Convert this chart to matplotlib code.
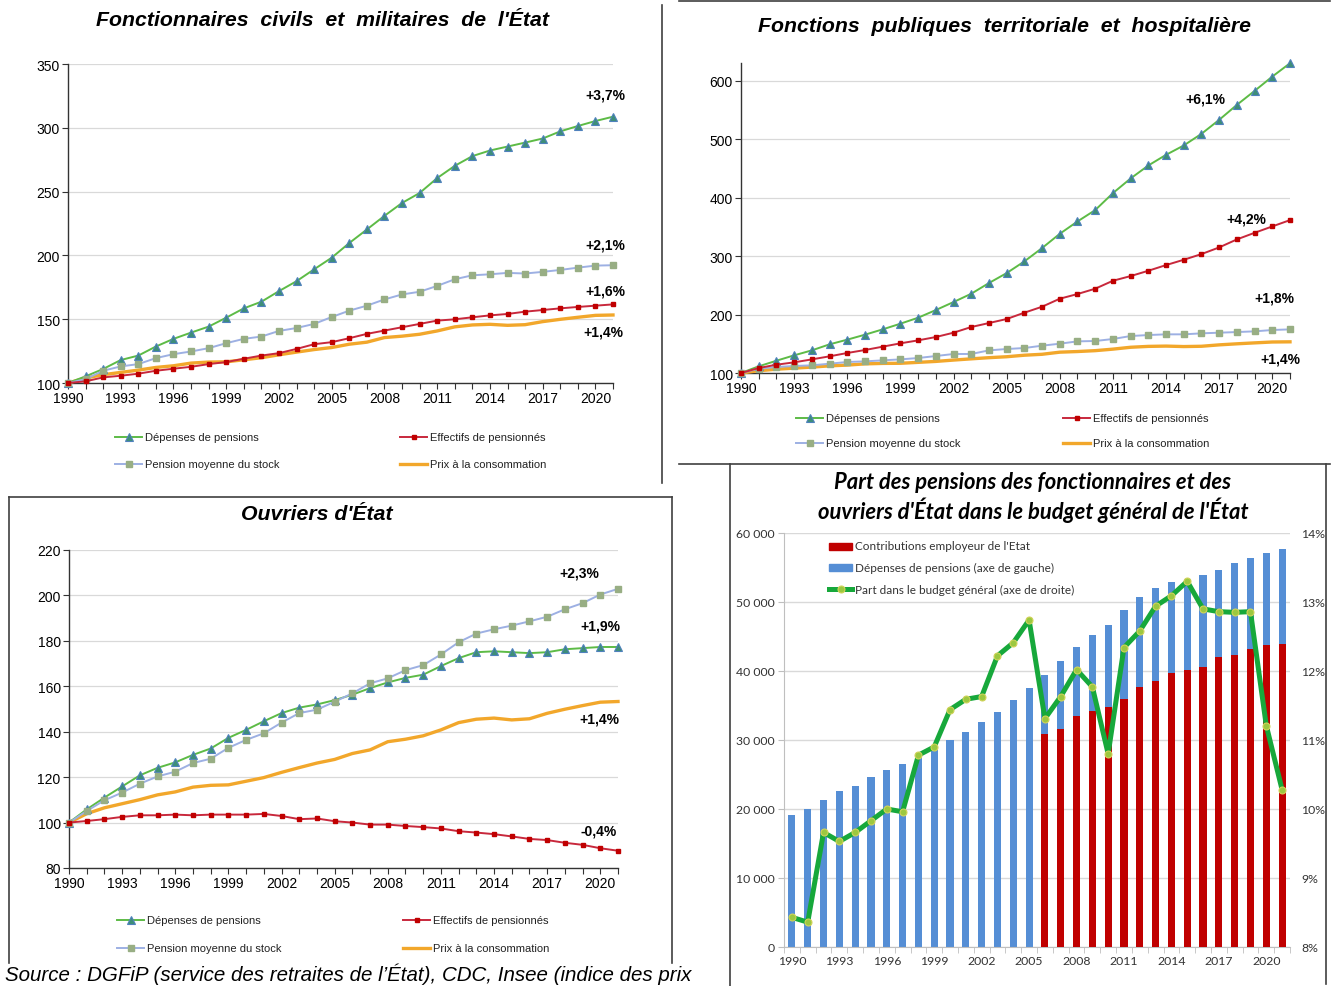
import matplotlib
matplotlib.use("Agg")
import matplotlib.pyplot as plt
import numpy as np
from matplotlib.lines import Line2D
from matplotlib.patches import Rectangle
from matplotlib.ticker import FuncFormatter

# ---------------------------------------------------------------- data
annees = list(range(1990, 2022))

# Indice des prix à la consommation (base 100 en 1990), commun aux trois régimes
prix_conso = [100, 103.9, 106.5, 108.3, 110.1, 112.2, 113.5, 115.6, 116.4, 116.6,
              118.2, 119.8, 122.1, 124.2, 126.2, 127.8, 130.4, 132.0, 135.6, 136.7,
              138.2, 140.8, 144.0, 145.5, 146.0, 145.2, 145.7, 148.1, 149.9, 151.5,
              153.0, 153.3]

# Fonctionnaires civils et militaires de l'État
etat_depenses = [100, 105.2, 111.0, 118.0, 121.5, 128.6, 134.6, 139.5, 144.2, 151.2,
                 158.5, 163.7, 172.0, 179.8, 189.1, 198.2, 209.7, 220.3, 231.0, 241.1,
                 248.9, 260.6, 270.2, 277.8, 282.2, 285.3, 288.4, 291.6, 297.2, 301.4,
                 305.3, 308.7]
etat_effectifs = [100, 101.3, 104.4, 105.7, 107.3, 109.6, 111.2, 112.7, 114.8, 116.4,
                  119.0, 121.5, 123.4, 126.7, 130.4, 132.0, 135.1, 138.5, 141.1, 143.7,
                  146.3, 148.9, 149.9, 151.5, 153.0, 154.1, 155.9, 157.2, 158.5, 159.6,
                  160.6, 161.6]
etat_pension_moy = [100, 103.0, 109.6, 113.0, 114.8, 119.5, 122.6, 124.7, 127.3, 131.2,
                    134.6, 136.4, 140.8, 143.1, 146.3, 151.7, 156.7, 160.6, 165.5, 169.4,
                    171.5, 176.1, 181.3, 184.4, 185.2, 186.3, 185.8, 187.1, 188.6, 190.4,
                    192.0, 192.3]
etat_taux = ["+3,7%", "+2,1%", "+1,6%", "+1,4%"]

# Fonctions publiques territoriale et hospitalière
fpth_depenses = [100, 111.4, 121.0, 130.2, 138.7, 149.0, 157.0, 165.5, 174.6, 184.3,
                 194.5, 207.6, 221.3, 235.5, 253.8, 270.8, 290.8, 313.6, 338.0, 359.1,
                 378.5, 407.5, 432.6, 454.8, 473.0, 489.0, 508.9, 532.8, 558.4, 582.3,
                 606.8, 629.6]
fpth_effectifs = [100, 108.5, 114.2, 118.2, 123.3, 128.5, 134.2, 139.3, 145.0, 150.7,
                  155.8, 161.5, 168.9, 178.6, 185.4, 192.3, 203.1, 213.3, 227.0, 235.0,
                  244.1, 257.7, 265.7, 274.8, 284.5, 293.6, 303.3, 314.7, 328.4, 339.7,
                  350.6, 361.4]
fpth_pension_moy = [100, 107.4, 110.3, 112.0, 113.1, 115.9, 118.8, 119.9, 121.6, 123.3,
                    125.6, 129.0, 132.5, 132.5, 138.7, 141.0, 142.7, 146.7, 150.1, 154.1,
                    154.7, 158.1, 163.2, 164.9, 166.1, 166.1, 167.8, 168.9, 170.0, 171.2,
                    173.5, 174.6]
fpth_taux = ["+6,1%", "+4,2%", "+1,8%", "+1,4%"]

# Ouvriers d'État
ouvr_depenses = [100, 105.8, 111.0, 115.9, 120.8, 124.1, 126.5, 129.8, 132.6, 137.3,
                 140.8, 144.6, 148.2, 150.6, 152.0, 153.9, 156.3, 159.2, 161.7, 163.7,
                 165.1, 168.9, 172.4, 175.0, 175.4, 175.0, 174.6, 175.0, 176.3, 176.8,
                 177.3, 177.3]
ouvr_effectifs = [100, 100.7, 101.5, 102.5, 103.2, 103.2, 103.5, 103.2, 103.5, 103.5,
                  103.5, 103.8, 102.9, 101.5, 101.8, 100.6, 100.0, 99.1, 99.1, 98.5,
                  98.0, 97.4, 96.2, 95.6, 94.9, 93.9, 92.8, 92.3, 91.1, 90.2,
                  88.7, 87.6]
ouvr_pension_moy = [100, 105.1, 109.8, 113.2, 117.1, 120.3, 122.4, 126.2, 128.1, 132.9,
                    136.4, 139.3, 144.0, 148.2, 149.7, 153.2, 156.9, 161.3, 163.5, 167.1,
                    169.3, 174.0, 179.4, 183.2, 185.1, 186.7, 188.6, 190.6, 193.9, 196.6,
                    200.4, 202.9]
ouvr_taux = ["+2,3%", "+1,9%", "+1,4%", "-0,4%"]

# Budget général de l'État (M€ et %)
budget_depenses = [19200, 20030, 21240, 22540, 23310, 24570, 25580, 26500, 27510, 28580,
                   30020, 31230, 32580, 34030, 35820, 37500, 39490, 41510, 43490, 45230,
                   46680, 48900, 50680, 52080, 52860, 53340, 53970, 54640, 55650, 56430,
                   57060, 57680]
annees_contrib = list(range(2006, 2022))
budget_contrib = [30890, 31570, 33450, 34270, 34850, 35960, 37750, 38620, 39730, 40160,
                  40600, 42050, 42380, 43200, 43730, 43880]
budget_part = [8.43, 8.36, 9.66, 9.53, 9.66, 9.83, 10.00, 9.96, 10.78, 10.90,
               11.44, 11.59, 11.63, 12.22, 12.41, 12.74, 11.31, 11.63, 12.02, 11.77,
               10.80, 12.34, 12.58, 12.94, 13.09, 13.30, 12.90, 12.86, 12.85, 12.86,
               11.21, 10.28]

labels_series = ["Dépenses de pensions", "Effectifs de pensionnés",
                 "Pension moyenne du stock", "Prix à la consommation"]

# ---------------------------------------------------------------- figure
W, H = 1339, 987
fig = plt.figure(figsize=(W / 100, H / 100), dpi=100)
fig.patch.set_facecolor("white")

SANS = ["Liberation Sans", "DejaVu Sans"]
CAL = ["Lato", "DejaVu Sans"]


def fx(x):
    return x / W


def fy(y):
    return 1 - y / H


def axes_px(l, t, r, b):
    return fig.add_axes([l / W, 1 - b / H, (r - l) / W, (b - t) / H])


def ftext(x, y, s, **kw):
    kw.setdefault("family", SANS)
    fig.text(fx(x), fy(y), s, **kw)


def fline(x0, y0, x1, y1, **kw):
    fig.add_artist(Line2D([fx(x0), fx(x1)], [fy(y0), fy(y1)],
                          transform=fig.transFigure, **kw))


STYLE = {
    "dep": dict(color="#5DBB46", lw=1.4, marker="^", ms=5.6,
                mfc="#3E8E78", mec="#4F81BD", mew=0.8),
    "eff": dict(color="#C8283C", lw=1.4, marker="s", ms=3.5,
                mfc="#C00000", mec="#C00000"),
    "moy": dict(color="#9DB0E3", lw=1.4, marker="s", ms=3.9,
                mfc="#98AE84", mec="#98AE84"),
    "prix": dict(color="#F2A72B", lw=2.4),
}


def legend_entry(x0, y, key, label):
    st = dict(STYLE[key])
    marker = st.pop("marker", None)
    ms = st.pop("ms", None)
    mfc = st.pop("mfc", None)
    mec = st.pop("mec", None)
    mew = st.pop("mew", 1.0)
    fline(x0, y, x0 + 27, y, **st)
    if marker:
        fig.add_artist(Line2D([fx(x0 + 13.5)], [fy(y)], transform=fig.transFigure,
                              marker=marker, ms=ms, mfc=mfc, mec=mec, mew=mew, lw=0))
    ftext(x0 + 30, y, label, fontsize=8, va="center", ha="left", color="#222222")


def line_panel(box, ylim, yticks, series, notes, leg_rows, leg_cols):
    ax = axes_px(*box)
    ax.plot(annees, prix_conso, **STYLE["prix"], zorder=3, clip_on=False)
    for key, vals in series:
        ax.plot(annees, vals, **STYLE[key], zorder=4, clip_on=False)
    ax.set_xlim(1990, 2021)
    ax.set_ylim(*ylim)
    ax.set_yticks(yticks)
    ax.set_xticks(range(1990, 2021, 3))
    ax.set_xticks(annees, minor=True)
    ax.grid(axis="y", color="#D9D9D9", lw=0.9)
    ax.set_axisbelow(True)
    for s in ("top", "right"):
        ax.spines[s].set_visible(False)
    for s in ("left", "bottom"):
        ax.spines[s].set_color("#333333")
        ax.spines[s].set_linewidth(1.0)
    ax.tick_params(axis="both", which="both", length=4, width=0.8,
                   color="#333333", labelsize=10, pad=2)
    for lab in ax.get_xticklabels() + ax.get_yticklabels():
        lab.set_family(SANS)
    for (txt, x, y) in notes:
        ftext(x, y, txt, fontsize=10, fontweight="bold", ha="center", va="center")
    keys = ["dep", "eff", "moy", "prix"]
    for i, key in enumerate(keys):
        legend_entry(leg_cols[i % 2], leg_rows[i // 2], key, labels_series[i])
    return ax


TITLE = dict(fontsize=15.3, fontweight="bold", fontstyle="italic",
             ha="center", va="center")

# Panneau 1 : fonctionnaires civils et militaires de l'État
line_panel((68, 65, 613, 384), (100, 350), range(100, 351, 50),
           [("dep", etat_depenses), ("moy", etat_pension_moy), ("eff", etat_effectifs)],
           list(zip(etat_taux, [605, 605, 605, 603], [95, 246, 291, 333])),
           (438, 465), (115, 400))
ftext(322, 21, "Fonctionnaires  civils  et  militaires  de  l'État", **TITLE)

# Panneau 2 : fonctions publiques territoriale et hospitalière
line_panel((741, 64, 1290, 374), (100, 630), range(100, 601, 100),
           [("dep", fpth_depenses), ("moy", fpth_pension_moy), ("eff", fpth_effectifs)],
           list(zip(fpth_taux, [1205, 1246, 1274, 1280], [100, 220, 299, 360])),
           (419, 444), (796, 1063))
ftext(1005, 27, "Fonctions  publiques  territoriale  et  hospitalière", **TITLE)

# Panneau 3 : ouvriers d'État
line_panel((69, 551, 618, 869), (80, 220), range(80, 221, 20),
           [("dep", ouvr_depenses), ("moy", ouvr_pension_moy), ("eff", ouvr_effectifs)],
           list(zip(ouvr_taux, [579, 600, 599, 599], [574, 627, 720, 832])),
           (921, 949), (117, 403))
ftext(317, 514, "Ouvriers d'État", **TITLE)

# Panneau 4 : part des pensions dans le budget général
ax4 = axes_px(784, 534, 1290, 948)
pos = np.arange(len(annees))
pos_contrib = [annees.index(a) for a in annees_contrib]
ax4.bar(pos, budget_depenses, width=0.45, color="#558ED5", zorder=2)
ax4.bar(pos_contrib, budget_contrib, width=0.45, color="#C00000", zorder=3)
ax4.set_xlim(-0.5, len(annees) - 0.5)
ax4.set_ylim(0, 60000)
ax4.set_yticks(range(0, 60001, 10000))
ax4.yaxis.set_major_formatter(FuncFormatter(
    lambda v, p: "0" if v == 0 else f"{int(v) // 1000} 000"))
ax4.set_xticks([annees.index(a) for a in range(1990, 2021, 3)])
ax4.set_xticklabels([str(a) for a in range(1990, 2021, 3)])
ax4.set_xticks(np.arange(-0.5, len(annees), 1), minor=True)
ax4.tick_params(axis="x", which="major", length=0, pad=6)
ax4.tick_params(axis="x", which="minor", length=4, color="#BFBFBF")
ax4.tick_params(axis="y", length=4, color="#BFBFBF", pad=3)
ax4.tick_params(axis="both", labelsize=8.8, labelcolor="#333333")
ax4.grid(axis="y", color="#D9D9D9", lw=1.0)
ax4.set_axisbelow(True)
for s in ("top", "right"):
    ax4.spines[s].set_visible(False)
for s in ("left", "bottom"):
    ax4.spines[s].set_color("#BFBFBF")
for lab in ax4.get_xticklabels() + ax4.get_yticklabels():
    lab.set_family(CAL)

ax4r = ax4.twinx()
ax4r.plot(pos, budget_part, color="#17A83B", lw=3.6, marker="o", ms=5,
          mfc="#9CC840", mec="#D2D35A", mew=0.8, zorder=5)
ax4r.set_ylim(8, 14)
ax4r.set_yticks(range(8, 15))
ax4r.yaxis.set_major_formatter(FuncFormatter(lambda v, p: f"{int(v)}%"))
ax4r.tick_params(axis="y", length=0, pad=8, labelsize=8.8, labelcolor="#333333")
for s in ax4r.spines.values():
    s.set_visible(False)
for lab in ax4r.get_yticklabels():
    lab.set_family(CAL)

TITLE4 = dict(family=CAL, fontsize=15.8, fontweight="bold", fontstyle="italic",
              ha="center", va="center")
ftext(1033, 483, "Part des pensions des fonctionnaires et des", **TITLE4)
ftext(1033, 510, "ouvriers d'État dans le budget général de l'État", **TITLE4)

# Légende du panneau 4
leg4 = [("Contributions employeur de l'Etat", "#C00000", 547),
        ("Dépenses de pensions (axe de gauche)", "#558ED5", 568)]
for txt, col, y in leg4:
    fig.add_artist(Rectangle((fx(829), fy(y + 3.5)), 23 / W, 7 / H,
                             transform=fig.transFigure, color=col))
    ftext(855, y, txt, family=CAL, fontsize=8.5, color="#333333", va="center")
fline(829, 590, 852, 590, color="#17A83B", lw=3.6)
fig.add_artist(Line2D([fx(840.5)], [fy(590)], transform=fig.transFigure, marker="o",
                      ms=5, mfc="#9CC840", mec="#D2D35A", mew=0.8, lw=0))
ftext(855, 590, "Part dans le budget général (axe de droite)", family=CAL,
      fontsize=8.5, color="#333333", va="center")

# Cadres des panneaux
frame = dict(color="#404040", lw=1.2)
fline(661.5, 6, 661.5, 484, **frame)
fline(679, 2, 1330, 2, **frame)
fline(679, 465, 1330, 465, **frame)
fline(9, 498, 672, 498, **frame)
fline(9, 498, 9, 964, **frame)
fline(672, 498, 672, 964, **frame)
fline(730, 465, 730, 987, **frame)
fline(1326, 465, 1326, 985, **frame)

# Source
ftext(5, 981, "Source : DGFiP (service des retraites de l’État), CDC, Insee (indice des prix",
      fontsize=14.8, fontstyle="italic", ha="left", va="baseline")

fig.savefig("out.png", dpi=100)
